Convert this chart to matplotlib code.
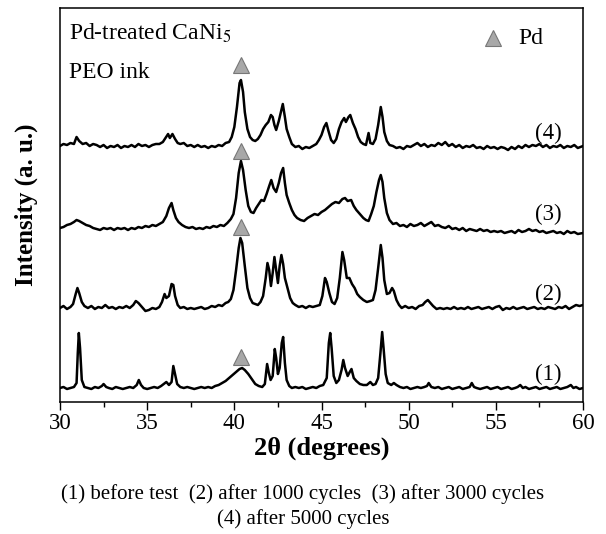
import matplotlib
matplotlib.use("Agg")
import matplotlib.pyplot as plt
from matplotlib.ticker import MultipleLocator

plt.rcParams['font.family'] = ['Liberation Serif', 'DejaVu Serif']
plt.rcParams['mathtext.fontset'] = 'stix'

# XRD traces: 2theta (deg) and intensity above each trace's own baseline (a.u.)
tt_1 = [30.0, 30.2, 30.4, 30.6, 30.8, 30.95, 31.02, 31.08, 31.15, 31.25, 31.4, 31.6, 31.8, 32.0, 32.2, 32.4,
        32.5, 32.65, 32.8, 33.0, 33.2, 33.4, 33.6, 33.8, 34.0, 34.2, 34.4, 34.52, 34.65, 34.8, 35.0, 35.2,
        35.4, 35.6, 35.8, 35.95, 36.1, 36.25, 36.4, 36.5, 36.6, 36.72, 36.9, 37.1, 37.3, 37.5, 37.7, 37.9,
        38.1, 38.3, 38.5, 38.7, 38.9, 39.1, 39.3, 39.5, 39.7, 39.9, 40.1, 40.3, 40.45, 40.6, 40.8, 41.0,
        41.2, 41.4, 41.6, 41.75, 41.88, 41.98, 42.08, 42.2, 42.32, 42.4, 42.5, 42.6, 42.72, 42.8, 42.9, 43.0,
        43.15, 43.3, 43.5, 43.7, 43.9, 44.1, 44.3, 44.5, 44.7, 44.9, 45.1, 45.3, 45.42, 45.5, 45.58, 45.7,
        45.85, 46.0, 46.15, 46.25, 46.35, 46.5, 46.62, 46.72, 46.85, 47.0, 47.2, 47.4, 47.6, 47.8, 47.95, 48.1,
        48.25, 48.38, 48.48, 48.56, 48.68, 48.8, 49.0, 49.15, 49.3, 49.5, 49.7, 49.9, 50.1, 50.3, 50.5, 50.7,
        50.9, 51.05, 51.15, 51.3, 51.5, 51.7, 51.9, 52.1, 52.3, 52.5, 52.7, 52.9, 53.1, 53.3, 53.5, 53.62,
        53.75, 53.9, 54.1, 54.3, 54.5, 54.7, 54.9, 55.1, 55.3, 55.5, 55.7, 55.9, 56.1, 56.25, 56.4, 56.55,
        56.7, 56.9, 57.1, 57.3, 57.5, 57.7, 57.9, 58.1, 58.3, 58.5, 58.7, 58.9, 59.1, 59.3, 59.45, 59.6,
        59.8, 60.0]
int_1 = [0, 1, -1, 0, 1, 5, 35, 55, 40, 8, 1, 0, -1, 1, 0, 2,
         4, 1, 0, -1, 1, 0, -1, 0, 1, 0, 3, 8, 3, 0, -1, 0,
         1, 0, 2, 4, 6, 3, 6, 22, 14, 4, 1, 0, 1, 0, -1, 0,
         1, 0, 1, 0, 2, 3, 5, 7, 10, 13, 16, 19, 20, 18, 14, 9,
         4, 2, 1, 4, 24, 15, 8, 12, 39, 30, 14, 20, 45, 51, 25, 8,
         2, 0, 1, 0, 1, -1, 0, 1, 0, 2, 3, 10, 45, 55, 40, 12,
         5, 8, 18, 28, 20, 12, 16, 19, 10, 7, 4, 3, 3, 6, 3, 4,
         10, 35, 56, 40, 14, 5, 3, 5, 3, 1, 0, 1, -1, 0, 1, 0,
         1, 2, 5, 1, 0, 1, -1, 0, 1, -1, 0, 1, -1, 0, 1, 5,
         1, 0, -1, 0, 1, -1, 0, 1, -1, 0, 1, -1, 0, 1, 3, 0,
         1, -1, 0, 1, -1, 0, 1, -1, 0, 1, -1, 0, 1, 3, 0, 1,
         -1, 0]

tt_2 = [30.0, 30.2, 30.4, 30.6, 30.75, 30.9, 31.0, 31.1, 31.25, 31.4, 31.6, 31.8, 32.0, 32.2, 32.4, 32.6,
        32.8, 33.0, 33.2, 33.4, 33.6, 33.8, 34.0, 34.2, 34.35, 34.5, 34.7, 34.9, 35.1, 35.3, 35.5, 35.7,
        35.85, 36.0, 36.1, 36.25, 36.4, 36.5, 36.6, 36.75, 36.9, 37.1, 37.3, 37.5, 37.7, 37.9, 38.1, 38.3,
        38.5, 38.7, 38.9, 39.1, 39.3, 39.5, 39.65, 39.8, 39.95, 40.1, 40.25, 40.35, 40.45, 40.6, 40.75, 40.9,
        41.05, 41.2, 41.35, 41.5, 41.65, 41.8, 41.9, 42.0, 42.1, 42.2, 42.3, 42.4, 42.5, 42.6, 42.7, 42.8,
        42.9, 43.05, 43.2, 43.35, 43.5, 43.7, 43.9, 44.1, 44.3, 44.5, 44.7, 44.9, 45.05, 45.2, 45.3, 45.45,
        45.6, 45.75, 45.9, 46.05, 46.2, 46.3, 46.45, 46.6, 46.75, 46.9, 47.05, 47.2, 47.4, 47.6, 47.8, 47.95,
        48.1, 48.25, 48.4, 48.5, 48.6, 48.75, 48.9, 49.05, 49.15, 49.3, 49.45, 49.6, 49.8, 50.0, 50.2, 50.4,
        50.6, 50.8, 50.95, 51.1, 51.25, 51.4, 51.6, 51.8, 52.0, 52.2, 52.4, 52.6, 52.8, 53.0, 53.2, 53.4,
        53.6, 53.8, 54.0, 54.2, 54.4, 54.6, 54.8, 55.0, 55.2, 55.4, 55.6, 55.8, 56.0, 56.2, 56.4, 56.6,
        56.8, 57.0, 57.2, 57.4, 57.6, 57.8, 58.0, 58.2, 58.4, 58.6, 58.8, 59.0, 59.2, 59.4, 59.6, 59.8, 60.0]
int_2 = [0, 2, -1, 1, 4, 14, 20, 15, 6, 2, 0, 2, -1, 1, 0, 3,
         0, 1, -1, 1, 0, 2, 0, 3, 7, 5, 1, -3, -2, 0, -1, 1,
         6, 14, 10, 12, 24, 23, 12, 3, 0, 1, -1, 0, -1, 0, 1, -1,
         0, 2, 1, 3, 2, 5, 6, 9, 18, 38, 60, 70, 65, 42, 20, 10,
         5, 4, 3, 6, 12, 30, 45, 38, 22, 35, 51, 38, 25, 42, 53, 44,
         30, 20, 10, 5, 3, 1, 2, 0, 2, 1, 2, 3, 12, 30, 26, 15,
         6, 4, 10, 30, 56, 48, 30, 30, 24, 20, 14, 11, 8, 6, 7, 8,
         18, 40, 63, 50, 28, 14, 15, 20, 17, 8, 3, 0, 2, 0, 1, -1,
         2, 3, 6, 8, 5, 2, -1, 0, -1, 0, -1, 1, -1, 0, -1, 1,
         -1, 0, 1, -1, 0, 1, -1, 1, 2, -2, 0, -1, 1, -1, 0, 1,
         -1, 0, 1, -1, 0, -1, 1, 0, -1, 1, 0, 2, -1, 1, 3, 2, 3]

tt_3 = [30.0, 30.2, 30.4, 30.6, 30.8, 30.95, 31.1, 31.3, 31.5, 31.7, 31.9, 32.1, 32.3, 32.5, 32.7, 32.9,
        33.1, 33.3, 33.5, 33.7, 33.9, 34.1, 34.3, 34.5, 34.7, 34.9, 35.1, 35.3, 35.5, 35.7, 35.9, 36.1,
        36.25, 36.4, 36.5, 36.65, 36.8, 37.0, 37.2, 37.4, 37.6, 37.8, 38.0, 38.2, 38.4, 38.6, 38.8, 39.0,
        39.2, 39.4, 39.6, 39.8, 39.95, 40.1, 40.25, 40.38, 40.5, 40.65, 40.8, 40.95, 41.1, 41.25, 41.4, 41.55,
        41.7, 41.85, 42.0, 42.12, 42.25, 42.4, 42.55, 42.68, 42.8, 42.9, 43.0, 43.15, 43.3, 43.45, 43.6, 43.8,
        44.0, 44.2, 44.4, 44.6, 44.8, 45.0, 45.2, 45.4, 45.6, 45.8, 46.0, 46.2, 46.35, 46.5, 46.7, 46.85,
        47.0, 47.2, 47.4, 47.55, 47.7, 47.85, 48.0, 48.15, 48.3, 48.4, 48.5, 48.6, 48.75, 48.9, 49.1, 49.3,
        49.5, 49.7, 49.9, 50.1, 50.3, 50.5, 50.7, 50.9, 51.1, 51.3, 51.5, 51.7, 51.9, 52.1, 52.3, 52.5,
        52.7, 52.9, 53.1, 53.3, 53.5, 53.7, 53.9, 54.1, 54.3, 54.5, 54.7, 54.9, 55.1, 55.3, 55.5, 55.7,
        55.9, 56.1, 56.3, 56.5, 56.7, 56.9, 57.1, 57.3, 57.5, 57.7, 57.9, 58.1, 58.3, 58.5, 58.7, 58.9,
        59.1, 59.3, 59.5, 59.7, 60.0]
int_3 = [0, 1, 3, 4, 6, 8, 7, 5, 3, 2, 0, -1, -2, 0, -1, 0,
         -2, 0, -1, 0, -2, 0, -1, 1, 0, 2, 1, 3, 2, 4, 6, 12,
         20, 25, 18, 10, 6, 3, 1, 0, 1, -1, 0, -1, 1, 0, 2, 1,
         3, 2, 5, 9, 14, 30, 55, 67, 58, 38, 22, 16, 15, 20, 24, 28,
         27, 34, 42, 48, 40, 36, 45, 55, 60, 45, 33, 25, 18, 13, 10, 8,
         7, 10, 12, 14, 13, 16, 18, 21, 24, 26, 25, 29, 30, 27, 28, 22,
         18, 14, 10, 8, 7, 14, 22, 36, 48, 53, 46, 30, 15, 8, 4, 5,
         2, 3, 1, 4, 2, 3, 5, 2, 4, 6, 2, 3, 1, 0, 2, -1,
         0, -2, 0, -3, -1, -2, -3, -1, -3, -2, -4, -3, -4, -3, -5, -4,
         -3, -5, -2, -4, -3, -1, -3, -2, -4, -3, -5, -4, -3, -5, -4, -6,
         -3, -5, -4, -6, -5]

tt_4 = [30.0, 30.2, 30.4, 30.6, 30.8, 30.95, 31.1, 31.3, 31.5, 31.7, 31.9, 32.1, 32.3, 32.5, 32.7, 32.9,
        33.1, 33.3, 33.5, 33.7, 33.9, 34.1, 34.3, 34.5, 34.7, 34.9, 35.1, 35.3, 35.5, 35.7, 35.9, 36.05,
        36.2, 36.3, 36.45, 36.6, 36.75, 36.9, 37.1, 37.3, 37.5, 37.7, 37.9, 38.1, 38.3, 38.5, 38.7, 38.9,
        39.1, 39.3, 39.5, 39.7, 39.85, 40.0, 40.15, 40.3, 40.38, 40.5, 40.6, 40.75, 40.9, 41.05, 41.2, 41.35,
        41.5, 41.65, 41.8, 41.95, 42.1, 42.2, 42.3, 42.4, 42.55, 42.7, 42.78, 42.9, 43.0, 43.15, 43.3, 43.5,
        43.7, 43.9, 44.1, 44.3, 44.5, 44.7, 44.85, 45.0, 45.15, 45.28, 45.4, 45.55, 45.7, 45.85, 46.0, 46.15,
        46.3, 46.4, 46.55, 46.65, 46.8, 46.95, 47.1, 47.25, 47.4, 47.55, 47.7, 47.8, 47.95, 48.1, 48.25, 48.4,
        48.5, 48.6, 48.75, 48.9, 49.1, 49.3, 49.5, 49.7, 49.9, 50.1, 50.3, 50.5, 50.7, 50.9, 51.1, 51.3,
        51.5, 51.7, 51.9, 52.1, 52.3, 52.5, 52.7, 52.9, 53.1, 53.3, 53.5, 53.7, 53.9, 54.1, 54.3, 54.5,
        54.7, 54.9, 55.1, 55.3, 55.5, 55.7, 55.9, 56.1, 56.3, 56.5, 56.7, 56.9, 57.1, 57.3, 57.5, 57.7,
        57.9, 58.1, 58.3, 58.5, 58.7, 58.9, 59.1, 59.3, 59.5, 59.7, 60.0]
int_4 = [1, 3, 2, 4, 3, 10, 6, 3, 4, 1, 3, 2, 0, 2, -1, 1,
         0, 2, -1, 1, 0, 2, 0, 3, 1, 2, 0, 2, 3, 3, 5, 9,
         13, 9, 13, 8, 4, 3, 4, 1, 2, 0, 2, 0, 1, -1, 1, 0,
         2, 1, 4, 5, 10, 20, 40, 64, 67, 55, 35, 18, 10, 7, 6, 8,
         12, 18, 22, 25, 32, 30, 22, 17, 26, 37, 43, 30, 18, 10, 3, 0,
         1, -2, 0, -1, 1, 3, 7, 12, 20, 24, 16, 7, 4, 8, 18, 25,
         29, 25, 30, 32, 24, 18, 10, 5, 3, 2, 14, 4, 3, 8, 22, 40,
         30, 15, 6, 2, 1, -1, 0, -2, 1, 0, 2, 4, 1, 3, 0, 2,
         1, 4, 2, 5, 1, 3, 0, 2, -1, 1, 0, 2, -1, 0, -2, 1,
         -1, 0, -2, 0, -1, -3, 0, -2, 1, -1, 2, 0, 2, 1, 3, 0,
         2, -1, 1, 0, 2, -1, 1, 0, 2, -1, 1]

traces = [(tt_1, int_1), (tt_2, int_2), (tt_3, int_3), (tt_4, int_4)]
trace_labels = ['(1)', '(2)', '(3)', '(4)']
offsets = [14, 94, 174, 255]

# Pd reflection marker (2theta) and its height above each trace
pd_peak = 40.38
pd_marker_y = [45, 175, 251, 337]

fig = plt.figure(figsize=(6.06, 5.34), dpi=100)
ax = fig.add_axes([60 / 606, 132 / 534, 523 / 606, 394 / 534])

for (tt, counts), off in zip(traces, offsets):
    ax.plot(tt, [c + off for c in counts], color='black', lw=1.8)

ax.plot([pd_peak] * 4, pd_marker_y, linestyle='none', marker='^', markersize=11,
        markerfacecolor='#a8a8a8', markeredgecolor='#777777', markeredgewidth=0.8)

for lab, off in zip(trace_labels, offsets):
    ax.text(58.0, off + 14, lab, fontsize=16.5, ha='center', va='center')

ax.text(30.5, 369, 'Pd-treated CaNi$_5$', fontsize=17, ha='left', va='center')
ax.text(30.5, 330, 'PEO ink', fontsize=17, ha='left', va='center')
ax.plot([54.84], [364], linestyle='none', marker='^', markersize=11,
        markerfacecolor='#a8a8a8', markeredgecolor='#777777', markeredgewidth=0.8)
ax.text(56.3, 364, 'Pd', fontsize=17, ha='left', va='center')

ax.set_xlim(30, 60)
ax.set_ylim(0, 394)
ax.xaxis.set_major_locator(MultipleLocator(5))
ax.xaxis.set_minor_locator(MultipleLocator(2.5))
ax.tick_params(axis='x', which='major', direction='out', length=6, width=1, labelsize=16.5, pad=2)
ax.tick_params(axis='x', which='minor', direction='out', length=3.5, width=1)
ax.set_yticks([])
for sp in ax.spines.values():
    sp.set_linewidth(1.1)

ax.set_xlabel('2θ (degrees)', fontsize=19, fontweight='bold', labelpad=2)
ax.set_ylabel('Intensity (a. u.)', fontsize=18, fontweight='bold')
ax.yaxis.set_label_coords(-0.043, 0.5)

fig.text(0.5, 1 - 494 / 534, '(1) before test  (2) after 1000 cycles  (3) after 3000 cycles',
         fontsize=15, ha='center', va='center')
fig.text(0.5, 1 - 519 / 534, '(4) after 5000 cycles', fontsize=15, ha='center', va='center')

fig.savefig('out.png', dpi=100)
